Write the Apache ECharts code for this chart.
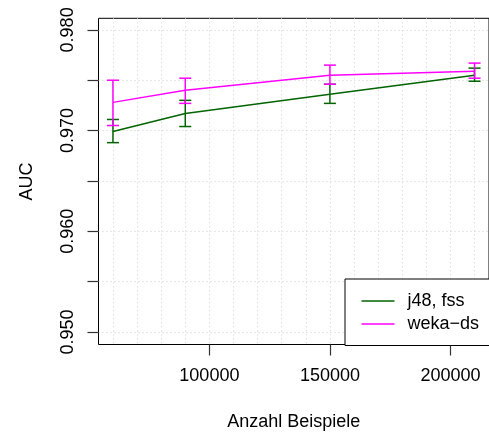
<!DOCTYPE html>
<html>
<head>
<meta charset="utf-8">
<script src="https://cdn.jsdelivr.net/npm/echarts@6/dist/echarts.min.js"></script>
<style>
  html, body { margin: 0; padding: 0; background: #fff; }
  #chart { width: 489px; height: 436px; }
</style>
</head>
<body>
<div id="chart"></div>
<script>
// Anzahl Beispiele
const samples = [60000, 90000, 150000, 210000];

// j48, fss
const j48Auc = [0.9699, 0.9717, 0.9736, 0.9755];
const j48Lo  = [0.9688, 0.9704, 0.9727, 0.9749];
const j48Hi  = [0.9711, 0.9730, 0.9746, 0.9762];

// weka-ds
const wekaAuc = [0.9728, 0.9740, 0.9755, 0.9759];
const wekaLo  = [0.9705, 0.9727, 0.9746, 0.9752];
const wekaHi  = [0.9750, 0.9752, 0.9765, 0.9767];

// ticks
const xTicks = [100000, 150000, 200000];
const xGrid = [60000, 70000, 80000, 90000, 100000, 110000, 120000, 130000, 140000,
               150000, 160000, 170000, 180000, 190000, 200000, 210000];
const yTicks = [0.950, 0.955, 0.960, 0.965, 0.970, 0.975, 0.980];
const yLabels = [0.950, 0.960, 0.970, 0.980];

const FONT = "'Liberation Sans', Arial, Helvetica, sans-serif";
const GREEN = "#006400";
const MAGENTA = "#ff00ff";

function zip3(a, b, c) {
  return a.map((v, i) => [v, b[i], c[i]]);
}

function errorBars(color) {
  return function (params, api) {
    const x = api.value(0);
    const top = api.coord([x, api.value(2)]);
    const bot = api.coord([x, api.value(1)]);
    const w = 6;
    const st = { stroke: color, lineWidth: 1.5 };
    return {
      type: "group",
      children: [
        { type: "line", shape: { x1: top[0], y1: top[1], x2: bot[0], y2: bot[1] }, style: st },
        { type: "line", shape: { x1: top[0] - w, y1: top[1], x2: top[0] + w, y2: top[1] }, style: st },
        { type: "line", shape: { x1: bot[0] - w, y1: bot[1], x2: bot[0] + w, y2: bot[1] }, style: st }
      ]
    };
  };
}

const gridLine = { show: true, lineStyle: { color: "#cfcfcf", type: [1, 3], width: 1 } };

const chart = echarts.init(document.getElementById("chart"), null, { renderer: "canvas" });
chart.setOption({
  animation: false,
  textStyle: { fontFamily: FONT },
  grid: {
    left: 98.5, top: 18.3, width: 394.4, height: 327.4,
    show: true, borderColor: "#000", borderWidth: 1, backgroundColor: "transparent"
  },
  legend: {
    orient: "vertical",
    left: 345, top: 279,
    data: ["j48, fss", "weka\u2212ds"],
    icon: "rect",
    borderColor: "#000", borderWidth: 1, borderRadius: 0,
    backgroundColor: "#fff",
    padding: [10.5, 20, 10, 16.5],
    itemWidth: 33, itemHeight: 1.5, itemGap: 0,
    textStyle: { fontSize: 18, color: "#000", fontFamily: FONT, lineHeight: 23, padding: [0, 0, 0, 8] }
  },
  xAxis: [
    {
      type: "value", position: "bottom", min: 54000, max: 216000,
      axisLine: { show: false },
      axisTick: { show: true, customValues: xTicks, length: 11, lineStyle: { color: "#333", width: 1.2 } },
      axisLabel: {
        customValues: xTicks, fontSize: 18, color: "#000", margin: 22.5, fontFamily: FONT,
        formatter: v => String(v)
      },
      splitLine: { show: false },
      name: "Anzahl Beispiele", nameLocation: "middle", nameGap: 68.5,
      nameTextStyle: { fontSize: 18, color: "#000", fontFamily: FONT }
    },
    {
      type: "value", position: "top", min: 54000, max: 216000,
      axisLine: { show: false },
      axisTick: { show: false, customValues: xGrid },
      axisLabel: { show: false },
      splitLine: gridLine
    }
  ],
  yAxis: [
    {
      type: "value", position: "left", min: 0.94875, max: 0.98115,
      axisLine: { show: false },
      axisTick: { show: true, customValues: yTicks, length: 11, lineStyle: { color: "#333", width: 1.2 } },
      axisLabel: {
        customValues: yLabels, rotate: 90, fontSize: 18, color: "#000", margin: 21,
        fontFamily: FONT, formatter: v => v.toFixed(3)
      },
      splitLine: gridLine,
      name: "AUC", nameLocation: "middle", nameRotate: 90, nameGap: 62.5,
      nameTextStyle: { fontSize: 18, color: "#000", fontFamily: FONT }
    }
  ],
  series: [
    {
      name: "j48, fss", type: "line", symbol: "none",
      data: samples.map((x, i) => [x, j48Auc[i]]),
      lineStyle: { color: GREEN, width: 1.5 }, itemStyle: { color: GREEN }, z: 3
    },
    {
      name: "j48 err", type: "custom",
      data: zip3(samples, j48Lo, j48Hi),
      renderItem: errorBars(GREEN), z: 3
    },
    {
      name: "weka\u2212ds", type: "line", symbol: "none",
      data: samples.map((x, i) => [x, wekaAuc[i]]),
      lineStyle: { color: MAGENTA, width: 1.5 }, itemStyle: { color: MAGENTA }, z: 4
    },
    {
      name: "weka err", type: "custom",
      data: zip3(samples, wekaLo, wekaHi),
      renderItem: errorBars(MAGENTA), z: 4
    }
  ]
});
</script>
</body>
</html>
